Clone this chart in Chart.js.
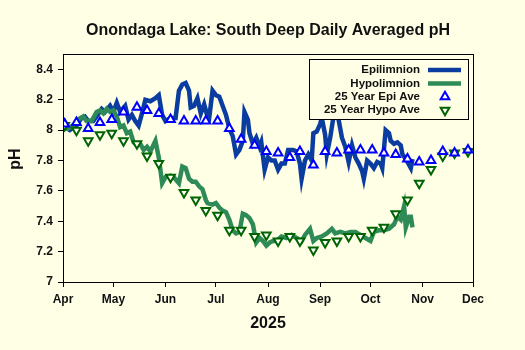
<!DOCTYPE html>
<html>
<head>
<meta charset="utf-8">
<script src="https://cdn.jsdelivr.net/npm/chart.js@4.4.1/dist/chart.umd.min.js"></script>
<style>
  html, body { margin: 0; padding: 0; background: #FFFFE6; }
  canvas { display: block; }
</style>
</head>
<body>
<canvas id="phChart" width="525" height="350"></canvas>
<script>
// day 0 = Apr 1 2025
const monthTicks = [0, 30, 61, 91, 122, 153, 183, 214, 244];
const monthLabels = ['Apr', 'May', 'Jun', 'Jul', 'Aug', 'Sep', 'Oct', 'Nov', 'Dec'];
const phTicks = [7, 7.2, 7.4, 7.6, 7.8, 8, 8.2, 8.4];

const epiDays = [0,4,8,11,13,15,18,20,23,25,28,30,32,34,37,39,41,43,45,47,49,52,55,57,59,61,64,67,69,71,73,75,76,78,80,82,84,86,87,89,91,93,95,97,99,101,103,105,107,108,110,111,113,115,117,118,120,122,124,126,128,130,132,134,137,139,141,142,144,146,148,149,151,153,154,156,157,159,161,163,164,166,168,170,172,174,176,178,179,181,183,185,187,189,190,192,194,195,197,199,201,202,204,205,207,208];
const epiPH = [8.03,8.00,8.03,8.08,8.09,8.06,8.06,8.09,8.14,8.12,8.16,8.12,8.18,8.12,8.16,8.07,8.10,8.06,8.03,8.11,8.20,8.19,8.21,8.23,8.10,8.06,8.08,8.08,8.26,8.30,8.31,8.26,8.15,8.16,8.21,8.11,8.17,8.09,8.08,8.26,8.23,8.22,8.16,8.10,8.01,7.96,7.84,7.87,7.93,8.12,8.07,7.98,7.91,7.95,7.89,7.92,7.74,7.82,7.80,7.80,7.74,7.78,7.78,7.87,7.87,7.86,7.78,7.68,7.80,7.84,7.80,7.98,7.99,8.04,8.08,7.97,7.84,7.95,8.09,8.11,8.07,7.95,7.89,7.79,7.90,7.82,7.78,7.73,7.68,7.80,7.78,7.75,7.79,7.78,7.75,8.00,7.98,7.93,7.91,7.92,7.90,7.84,7.81,7.79,7.75,7.81];

const hypoDays = [0,3,7,9,12,14,17,20,22,24,26,28,30,32,34,36,38,40,42,44,46,48,50,52,55,57,59,61,64,66,69,71,73,75,77,79,81,83,85,86,89,91,93,95,97,99,101,103,105,107,109,111,113,115,117,119,121,123,125,127,130,133,136,139,142,144,147,149,151,154,157,160,162,165,168,171,174,177,180,183,185,188,191,194,197,199,201,203,204,206,207,208];
const hypoPH = [8.03,8.01,8.04,8.07,8.09,8.06,8.06,8.12,8.13,8.11,8.14,8.12,8.13,8.09,8.02,8.03,7.98,7.99,7.92,7.90,7.91,7.87,7.89,7.86,7.93,7.82,7.65,7.69,7.70,7.69,7.65,7.76,7.75,7.68,7.66,7.66,7.63,7.61,7.54,7.52,7.51,7.52,7.49,7.47,7.46,7.41,7.34,7.32,7.33,7.45,7.44,7.42,7.38,7.26,7.29,7.27,7.24,7.26,7.27,7.27,7.30,7.29,7.31,7.29,7.27,7.31,7.35,7.27,7.29,7.30,7.32,7.35,7.32,7.33,7.32,7.33,7.33,7.31,7.29,7.27,7.33,7.34,7.34,7.35,7.38,7.43,7.41,7.50,7.36,7.43,7.43,7.36];

// 25 year weekly averages
const aveDays = [1,8,15,22,29,36,44,50,57,64,72,79,85,92,99,106,114,121,128,135,141,149,156,163,170,177,184,191,198,205,212,219,226,233,241];
const epiAve = [8.04,8.05,8.01,8.05,8.07,8.12,8.15,8.13,8.11,8.07,8.06,8.06,8.06,8.06,8.01,7.94,7.90,7.86,7.85,7.82,7.86,7.77,7.86,7.85,7.87,7.87,7.87,7.85,7.84,7.81,7.79,7.80,7.86,7.85,7.87];
const hypoAve = [8.03,8.00,7.93,7.97,7.98,7.93,7.91,7.83,7.78,7.69,7.59,7.54,7.47,7.44,7.34,7.34,7.30,7.31,7.27,7.30,7.27,7.21,7.26,7.27,7.30,7.30,7.34,7.36,7.45,7.54,7.65,7.74,7.83,7.85,7.86];

const bg = '#FFFFE6';
const epiColor = '#0B3C9F';
const hypoColor = '#2E8B57';
const fontName = "'Liberation Sans', Arial, sans-serif";

function pts(xs, ys) {
  return xs.map((x, i) => ({ x: x, y: ys[i] }));
}

const legendItems = [
  { text: 'Epilimnion', kind: 'line', color: epiColor },
  { text: 'Hypolimnion', kind: 'line', color: hypoColor },
  { text: '25 Year Epi Ave', kind: 'point', color: '#0000FF', rotation: 0 },
  { text: '25 Year Hypo Ave', kind: 'point', color: '#006400', rotation: 180 }
];

const bgPlugin = {
  id: 'bgPlugin',
  beforeDraw(chart) {
    const ctx = chart.ctx;
    ctx.save();
    ctx.fillStyle = bg;
    ctx.fillRect(0, 0, chart.width, chart.height);
    ctx.restore();
  },
  afterDraw(chart) {
    const ctx = chart.ctx;
    const a = chart.chartArea;
    ctx.save();
    ctx.strokeStyle = '#000';
    ctx.lineWidth = 1;
    ctx.strokeRect(Math.round(a.left) + 0.5, Math.round(a.top) + 0.5,
      Math.round(a.right - a.left), Math.round(a.bottom - a.top));

    // y axis title, sits a little above the middle like the original
    ctx.fillStyle = '#111';
    ctx.font = "bold 16px " + fontName;
    ctx.textAlign = 'center';
    ctx.textBaseline = 'middle';
    ctx.translate(16, 159);
    ctx.rotate(-Math.PI / 2);
    ctx.fillText('pH', 0, 0);
    ctx.setTransform(1, 0, 0, 1, 0, 0);

    // legend box inside the plot
    ctx.fillStyle = bg;
    ctx.fillRect(309, 59, 159, 60);
    ctx.strokeRect(309.5, 59.5, 159, 60);
    ctx.font = "bold 11.5px " + fontName;
    ctx.textAlign = 'right';
    legendItems.forEach((it, i) => {
      const y = 70 + i * 13.4;
      ctx.fillStyle = '#111';
      ctx.fillText(it.text, 420, y);
      if (it.kind === 'line') {
        ctx.strokeStyle = it.color;
        ctx.lineWidth = 4.5;
        ctx.beginPath();
        ctx.moveTo(428, y);
        ctx.lineTo(461, y);
        ctx.stroke();
      } else {
        ctx.strokeStyle = it.color;
        ctx.fillStyle = '#FFFFFF';
        ctx.lineWidth = 2;
        Chart.helpers.drawPoint(ctx, { pointStyle: 'triangle', radius: 5, rotation: it.rotation, borderWidth: 2 }, 445, y);
      }
    });
    ctx.restore();
  }
};

new Chart(document.getElementById('phChart').getContext('2d'), {
  type: 'line',
  data: {
    datasets: [
      {
        label: '25 Year Epi Ave',
        data: pts(aveDays, epiAve),
        showLine: false,
        pointStyle: 'triangle',
        pointRadius: 5,
        pointBorderWidth: 2,
        pointBorderColor: '#0000FF',
        pointBackgroundColor: '#FFFFFF',
        order: 1
      },
      {
        label: '25 Year Hypo Ave',
        data: pts(aveDays, hypoAve),
        showLine: false,
        pointStyle: 'triangle',
        pointRotation: 180,
        pointRadius: 5,
        pointBorderWidth: 2,
        pointBorderColor: '#006400',
        pointBackgroundColor: '#FFFFFF',
        order: 2
      },
      {
        label: 'Hypolimnion',
        data: pts(hypoDays, hypoPH),
        borderColor: hypoColor,
        borderWidth: 4.5,
        pointRadius: 0,
        tension: 0,
        order: 3
      },
      {
        label: 'Epilimnion',
        data: pts(epiDays, epiPH),
        borderColor: epiColor,
        borderWidth: 4.5,
        pointRadius: 0,
        tension: 0,
        order: 4
      }
    ]
  },
  options: {
    responsive: false,
    animation: false,
    devicePixelRatio: 1,
    layout: { padding: { left: 0, right: 52, top: 0, bottom: 0 } },
    plugins: {
      legend: { display: false },
      tooltip: { enabled: false },
      title: {
        display: true,
        fullSize: false,
        text: 'Onondaga Lake: South Deep Daily Averaged pH',
        color: '#111',
        font: { family: fontName, size: 16, weight: 'bold' },
        padding: { top: 21, bottom: 14 }
      }
    },
    scales: {
      x: {
        type: 'linear',
        min: 0,
        max: 244,
        afterBuildTicks: (axis) => { axis.ticks = monthTicks.map(v => ({ value: v })); },
        afterFit: (scale) => { scale.height = 68; },
        ticks: {
          autoSkip: false,
          maxRotation: 0,
          padding: 5,
          color: '#111',
          font: { family: fontName, size: 12, weight: 'bold' },
          callback: (v) => monthLabels[monthTicks.indexOf(v)]
        },
        grid: { drawOnChartArea: false, drawTicks: true, tickLength: 5, color: '#000' },
        border: { color: '#000', width: 1 },
        title: {
          display: true,
          text: '2025',
          color: '#111',
          font: { family: fontName, size: 16, weight: 'bold' },
          padding: { top: 0, bottom: 17 }
        }
      },
      y: {
        min: 7,
        max: 8.5,
        afterBuildTicks: (axis) => { axis.ticks = phTicks.map(v => ({ value: v })); },
        afterFit: (scale) => { scale.width = 63; },
        ticks: {
          padding: 5,
          color: '#111',
          font: { family: fontName, size: 12, weight: 'bold' },
          callback: (v) => String(v)
        },
        grid: { drawOnChartArea: false, drawTicks: true, tickLength: 5, color: '#000' },
        border: { color: '#000', width: 1 }
      }
    }
  },
  plugins: [bgPlugin]
});
</script>
</body>
</html>
